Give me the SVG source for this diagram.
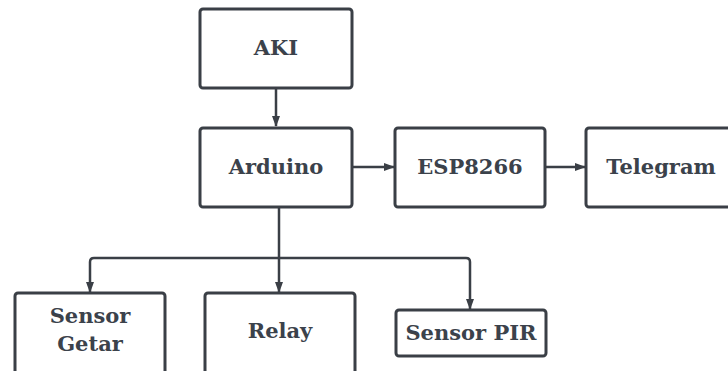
<svg xmlns="http://www.w3.org/2000/svg" width="728" height="371" viewBox="0 0 728 371">
<style>
.box{fill:#ffffff;stroke:#3a3f46;stroke-width:3}
.lbl{font-family:"DejaVu Serif","Liberation Serif",serif;font-weight:bold;font-size:21px;fill:#3b424b;text-anchor:middle;dominant-baseline:central}
.con{fill:none;stroke:#3a3f46;stroke-width:2.5;marker-end:url(#ah)}
</style>
<defs>
<marker id="ah" markerWidth="11" markerHeight="8" refX="10" refY="4" orient="auto" markerUnits="userSpaceOnUse">
<path d="M0,0 L11,4 L0,8 Z" fill="#3a3f46"/>
</marker>
</defs>
<rect width="728" height="371" fill="#ffffff"/>
<g id="connectors">
<path class="con" d="M276,89 V126"/>
<path class="con" d="M353,167 H394"/>
<path class="con" d="M546,167 H585"/>
<path class="con" d="M279,208 V292"/>
<path class="con" d="M279,258 H94 Q90,258 90,262 V292"/>
<path class="con" d="M279,258 H466 Q470,258 470,262 V309"/>
</g>
<g id="aki"><rect class="box" x="200" y="9" width="152" height="79" rx="3"/><text class="lbl" x="276" y="47">AKI</text></g>
<g id="arduino"><rect class="box" x="200" y="128" width="152" height="79" rx="3"/><text class="lbl" x="276" y="166">Arduino</text></g>
<g id="esp8266"><rect class="box" x="395" y="128" width="150" height="79" rx="3"/><text class="lbl" x="470" y="166">ESP8266</text></g>
<g id="telegram"><rect class="box" x="586" y="128" width="150" height="79" rx="3"/><text class="lbl" x="661" y="166">Telegram</text></g>
<g id="sensor-getar"><rect class="box" x="15" y="293" width="150" height="90" rx="3"/><text class="lbl" x="90" y="315">Sensor</text><text class="lbl" x="90" y="343">Getar</text></g>
<g id="relay"><rect class="box" x="205" y="293" width="150" height="90" rx="3"/><text class="lbl" x="280" y="330">Relay</text></g>
<g id="sensor-pir"><rect class="box" x="396" y="310" width="150" height="46" rx="3"/><text class="lbl" x="471" y="332">Sensor PIR</text></g>
</svg>
